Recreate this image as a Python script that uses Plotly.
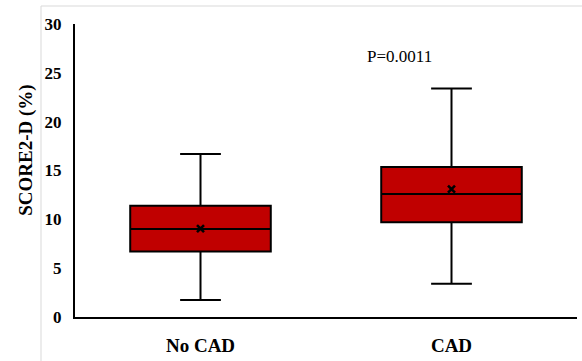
import plotly.graph_objects as go

categories = ["No CAD", "CAD"]
q1 = [6.7, 9.7]
median = [9.0, 12.6]
q3 = [11.4, 15.35]
lower_whisker = [1.75, 3.4]
upper_whisker = [16.7, 23.4]
mean = [9.05, 13.1]
p_text = "P=0.0011"
y_ticks = [0, 5, 10, 15, 20, 25, 30]

serif = "Liberation Serif, Times New Roman, serif"
xpos = list(range(len(categories)))

fig = go.Figure()
fig.add_trace(go.Box(
    x=xpos, q1=q1, median=median, q3=q3,
    lowerfence=lower_whisker, upperfence=upper_whisker,
    width=0.56, whiskerwidth=0.29,
    fillcolor="#C00000",
    line=dict(color="black", width=2),
    boxpoints=False, showlegend=False, hoverinfo="skip",
))
fig.add_trace(go.Scatter(
    x=xpos, y=mean, mode="markers",
    marker=dict(symbol="x-thin", size=7, color="black",
                line=dict(width=2.6, color="black")),
    showlegend=False, hoverinfo="skip",
))

fig.update_layout(
    width=582, height=361,
    margin=dict(l=75, r=5, t=24, b=44),
    paper_bgcolor="white", plot_bgcolor="white",
    font=dict(family=serif, color="black"),
    xaxis=dict(
        range=[-0.5, 1.5], tickvals=xpos, ticktext=categories,
        showgrid=False, zeroline=False, showline=True,
        linecolor="black", linewidth=2, ticks="",
        tickfont=dict(family=serif, size=19, color="black", weight="bold"),
        ticklabelstandoff=10,
    ),
    yaxis=dict(
        range=[0, 30], tickvals=y_ticks,
        showgrid=False, zeroline=False, showline=True,
        linecolor="black", linewidth=2, ticks="",
        tickfont=dict(family=serif, size=17, color="black", weight="bold"),
        ticklabelstandoff=8,
    ),
    annotations=[
        dict(text="SCORE2-D (%)", x=-0.098, y=0.57, xref="paper", yref="paper",
             textangle=-90, showarrow=False, xanchor="center", yanchor="middle",
             font=dict(family=serif, size=19, color="black", weight="bold")),
        dict(text=p_text, x=0.646, y=0.89, xref="paper", yref="paper",
             showarrow=False, xanchor="center", yanchor="middle",
             font=dict(family=serif, size=17, color="black")),
    ],
    shapes=[
        dict(type="line", xref="paper", yref="paper", x0=-0.0677, x1=-0.0677,
             y0=1.0614, y1=-0.2, line=dict(color="#d9d9d9", width=1), layer="below"),
        dict(type="line", xref="paper", yref="paper", x0=-0.0677, x1=1.05,
             y0=1.0614, y1=1.0614, line=dict(color="#d9d9d9", width=1), layer="below"),
    ],
)

fig.write_html("out.html")
